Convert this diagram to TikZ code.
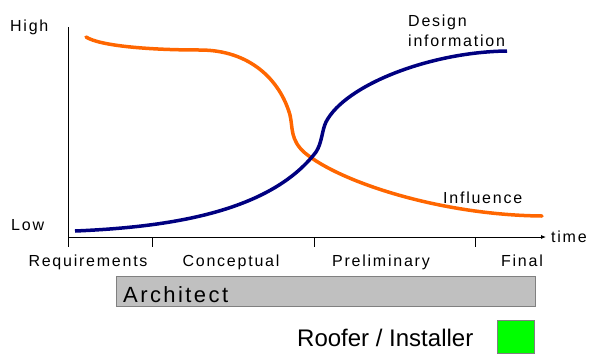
\documentclass[tikz,border=0pt]{standalone}
\usepackage{fontspec}
\setmainfont{Liberation Sans}
\newfontfamily\widefont[LetterSpace=11]{Liberation Sans}
\usetikzlibrary{arrows.meta}
\definecolor{inflorange}{HTML}{FF6600}
\definecolor{infonavy}{HTML}{000080}
\definecolor{bargray}{HTML}{C0C0C0}
\definecolor{edgegray}{HTML}{808080}
\begin{document}
\begin{tikzpicture}[x=1pt, y=-1pt, every node/.style={inner sep=0pt, font=\widefont\fontsize{16}{20}\selectfont}]
\useasboundingbox (0,0) rectangle (589,354);
% axes
\draw[line width=0.8pt] (68,27) -- (68,247);
\draw[line width=0.8pt,-{Latex[length=5pt,width=4pt]}] (68,237) -- (546,237);
\node[anchor=base west] (timelbl) at (551,242) {time};
\foreach \x in {152,314,475}
	\draw[line width=0.8pt] (\x,237) -- (\x,247);
\node[anchor=base west] (high) at (10,31) {High};
\node[anchor=base west] (low) at (11,230) {Low};
% phases
\node[anchor=base] (req) at (88,266) {Requirements};
\node[anchor=base] (concept) at (231,266) {Conceptual};
\node[anchor=base] (prelim) at (381,266) {Preliminary};
\node[anchor=base] (final) at (522,266) {Final};
% curves
\draw[inflorange, line width=3.5pt, line cap=round] (86,37) .. controls (100,46) and (150,50) .. (200,50)
	.. controls (250,50) and (280,80) .. (290,115) .. controls (293,128) and (290,140) .. (305,153)
	.. controls (340,182) and (440,215) .. (542,216);
\draw[infonavy, line width=3.5pt] (75,231) .. controls (170,227) and (270,212) .. (316,152)
	.. controls (322,143) and (322,130) .. (326,122) .. controls (345,85) and (430,52) .. (507,51);
\node[anchor=north west, align=left] (design) at (408,14.5) {Design\\information};
\node[anchor=base west] (influence) at (443,203) {Influence};
% roles
\draw[edgegray, fill=bargray, line width=0.8pt] (116,276) rectangle (535,306);
\node[anchor=base west, font=\widefont\fontsize{22}{26}\selectfont] (arch) at (123,302) {Architect};
\node[anchor=base west, font=\fontsize{24}{28}\selectfont] (roofer) at (297,346) {Roofer / Installer};
\draw[edgegray, fill=green, line width=0.8pt] (497,320) rectangle (534,353);
\end{tikzpicture}
\end{document}
